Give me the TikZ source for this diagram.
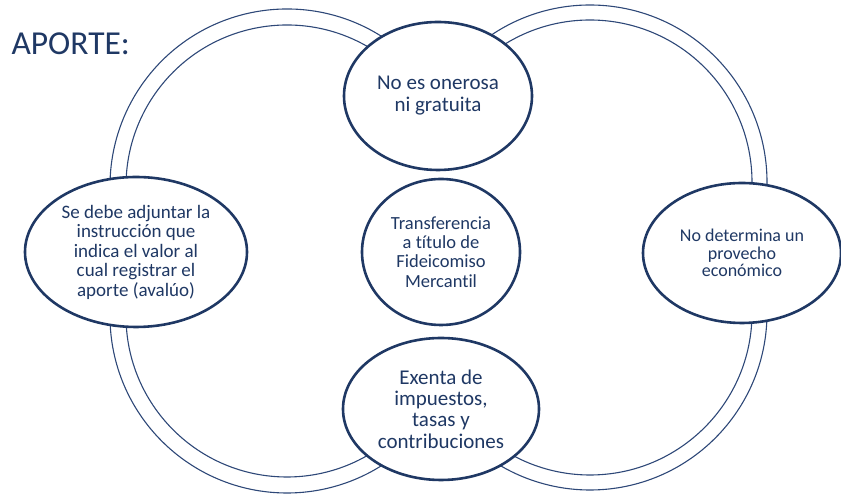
\documentclass[tikz,border=0pt]{standalone}
\usepackage{fontspec}
\setmainfont[Ligatures=NoCommon]{Carlito}
\usetikzlibrary{shapes.geometric}
\definecolor{navy}{RGB}{31,56,100}
\definecolor{ringblue}{RGB}{46,72,120}

\begin{document}
\begin{tikzpicture}[x=1pt, y=1pt,
    idea/.style={ellipse, draw=navy, line width=2.6pt, fill=white, inner sep=0pt, align=center, text=navy},
    ring/.style={draw=ringblue, line width=1.1pt}]
    \useasboundingbox (0,0) rectangle (841,494);

    % Left ring (outer and inner line)
    \draw[ring] (287,308) ++(55:177) arc[start angle=55, end angle=180, radius=177]
        -- ++(0,-130) arc[start angle=180, end angle=305, radius=177];
    \draw[ring] (287,308) ++(55:161) arc[start angle=55, end angle=180, radius=161]
        -- ++(0,-130) arc[start angle=180, end angle=305, radius=161];

    % Right ring (outer and inner line)
    \draw[ring] (590,312) ++(130:177) arc[start angle=130, end angle=0, radius=177]
        -- ++(0,-131) arc[start angle=0, end angle=-130, radius=177];
    \draw[ring] (590,312) ++(130:162) arc[start angle=130, end angle=0, radius=162]
        -- ++(0,-131) arc[start angle=0, end angle=-130, radius=162];

    % Title
    \node[anchor=base west, text=navy, font=\fontsize{33.5}{38}\selectfont] (title) at (8,439) {APORTE:};

    % Ideas
    \node[idea, minimum width=188pt, minimum height=148pt, font=\fontsize{21}{22}\selectfont] (onerosa) at (438,398) {No es onerosa\\ni gratuita};
    \node[idea, minimum width=158pt, minimum height=146pt, font=\fontsize{18.5}{19.4}\selectfont] (transf) at (441,242) {Transferencia\\a título de\\Fideicomiso\\Mercantil};
    \node[idea, minimum width=196pt, minimum height=142pt, font=\fontsize{21}{21.3}\selectfont] (exenta) at (441,85) {Exenta de\\impuestos,\\tasas y\\contribuciones};
    \node[idea, minimum width=222pt, minimum height=150pt, font=\fontsize{19}{19.5}\selectfont] (avaluo) at (136,242) {Se debe adjuntar la\\instrucción que\\indica el valor al\\cual registrar el\\aporte (avalúo)};
    \node[idea, minimum width=198pt, minimum height=140pt, font=\fontsize{18}{17.5}\selectfont] (provecho) at (742,241) {No determina un\\provecho\\económico};

\end{tikzpicture}
\end{document}
